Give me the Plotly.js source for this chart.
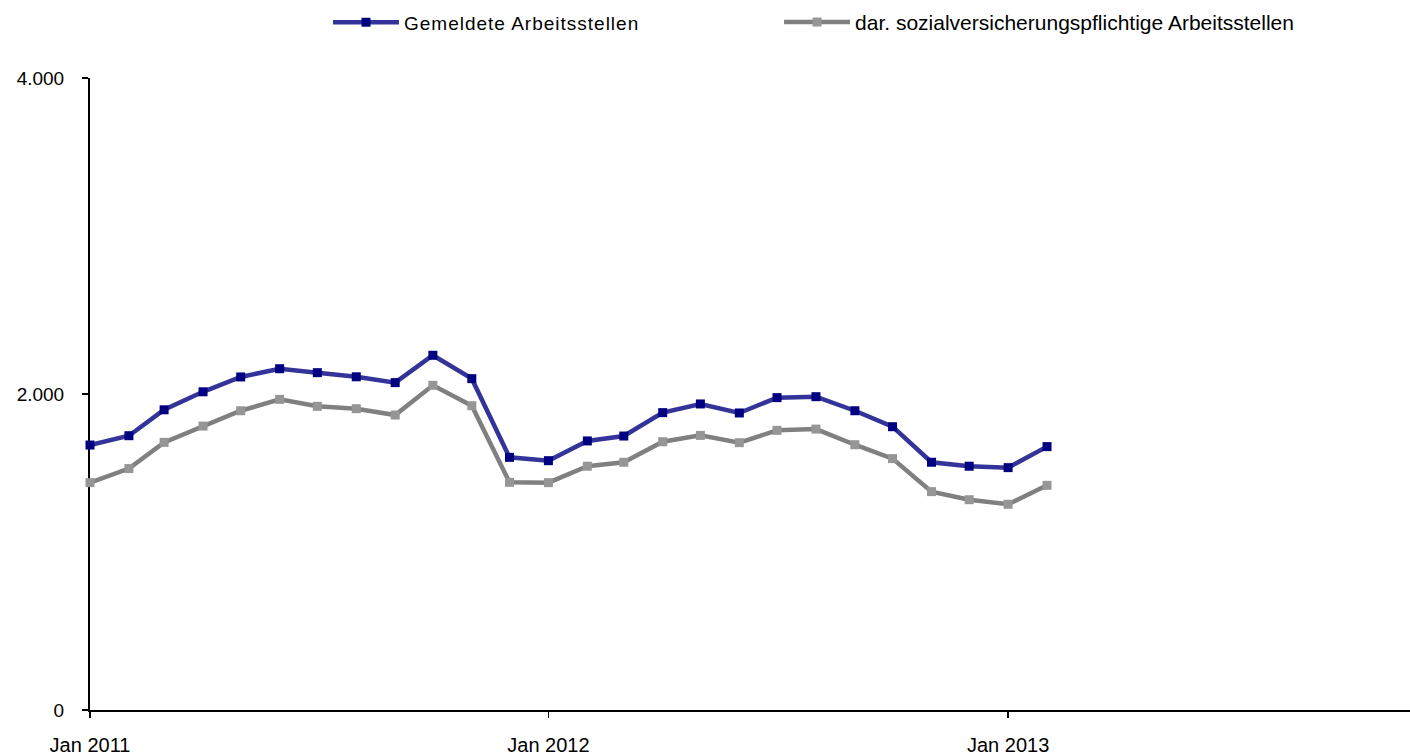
<!DOCTYPE html>
<html>
<head>
<meta charset="utf-8">
<script src="https://cdn.plot.ly/plotly-3.0.1.min.js"></script>
<style>
html, body { margin: 0; padding: 0; background: #fff; }
#chart { width: 1410px; height: 756px; }
text.legendtext { letter-spacing: 1px !important; }
</style>
</head>
<body>
<div id="chart"></div>
<script>
const months = [
  '2011-01-01','2011-02-01','2011-03-01','2011-04-01','2011-05-01','2011-06-01',
  '2011-07-01','2011-08-01','2011-09-01','2011-10-01','2011-11-01','2011-12-01',
  '2012-01-01','2012-02-01','2012-03-01','2012-04-01','2012-05-01','2012-06-01',
  '2012-07-01','2012-08-01','2012-09-01','2012-10-01','2012-11-01','2012-12-01',
  '2013-01-01','2013-02-01'
];
const gemeldete = [
  1677, 1736, 1900, 2014, 2108, 2160, 2135, 2109, 2072, 2245, 2097, 1599,
  1578, 1703, 1734, 1882, 1937, 1880, 1977, 1983, 1894, 1793, 1568, 1543,
  1534, 1667
];
const svPflichtig = [
  1439, 1528, 1694, 1797, 1894, 1966, 1922, 1907, 1867, 2055, 1926, 1441,
  1439, 1543, 1568, 1698, 1738, 1692, 1770, 1778, 1679, 1591, 1382, 1331,
  1302, 1422
];
const seriesNames = ['Gemeldete Arbeitsstellen', 'dar. sozialversicherungspflichtige Arbeitsstellen'];
const xTickVals = ['2011-01-01', '2012-01-01', '2013-01-01'];
const xTickText = ['Jan 2011', 'Jan 2012', 'Jan 2013'];
const yTickVals = [0, 2000, 4000];
const yTickText = ['0', '2.000', '4.000'];

const FONT = 'Liberation Sans, Arial, sans-serif';

const traces = [
  {
    x: months, y: gemeldete, name: seriesNames[0], type: 'scatter', mode: 'lines+markers',
    line: { color: '#333399', width: 4.5 },
    marker: { symbol: 'square', color: '#000080', size: 9, line: { width: 0 } },
    cliponaxis: false, legend: 'legend', showlegend: true
  },
  {
    x: months, y: svPflichtig, name: seriesNames[1], type: 'scatter', mode: 'lines+markers',
    line: { color: '#808080', width: 4.5 },
    marker: { symbol: 'square', color: '#969696', size: 9, line: { width: 0 } },
    cliponaxis: false, legend: 'legend2', showlegend: true
  }
];

const legendBase = {
  orientation: 'h', xanchor: 'left', y: 1.088, yanchor: 'middle',
  font: { family: FONT, size: 19, color: '#000' },
  itemwidth: 66, bgcolor: 'rgba(0,0,0,0)'
};

const layout = {
  width: 1410, height: 756,
  margin: { l: 90, r: 0, t: 78, b: 46, pad: 0 },
  paper_bgcolor: '#ffffff', plot_bgcolor: '#ffffff',
  font: { family: FONT, color: '#000000', size: 18 },
  showlegend: true,
  legend: Object.assign({}, legendBase, { x: 0.1803 }),
  legend2: Object.assign({}, legendBase, { x: 0.522, font: { family: FONT, size: 21, color: '#000' } }),
  xaxis: {
    type: 'date', range: ['2011-01-01', '2013-11-17'],
    tickmode: 'array', tickvals: xTickVals, ticktext: xTickText,
    ticks: 'outside', ticklen: 6, tickwidth: 1.5, tickcolor: '#000',
    showline: true, linecolor: '#000', linewidth: 2,
    showgrid: false, zeroline: false,
    tickfont: { family: FONT, size: 20, color: '#000' },
    ticklabelstandoff: 10,
    layer: 'below traces', fixedrange: true
  },
  yaxis: {
    range: [0, 4000],
    tickmode: 'array', tickvals: yTickVals, ticktext: yTickText,
    ticks: 'outside', ticklen: 6, tickwidth: 1.5, tickcolor: '#000',
    showline: true, linecolor: '#000', linewidth: 2,
    showgrid: false, zeroline: false,
    tickfont: { family: FONT, size: 19, color: '#000' },
    ticklabelstandoff: 14,
    layer: 'below traces', fixedrange: true
  }
};

Plotly.newPlot('chart', traces, layout, { displayModeBar: false, staticPlot: true });
</script>
</body>
</html>
